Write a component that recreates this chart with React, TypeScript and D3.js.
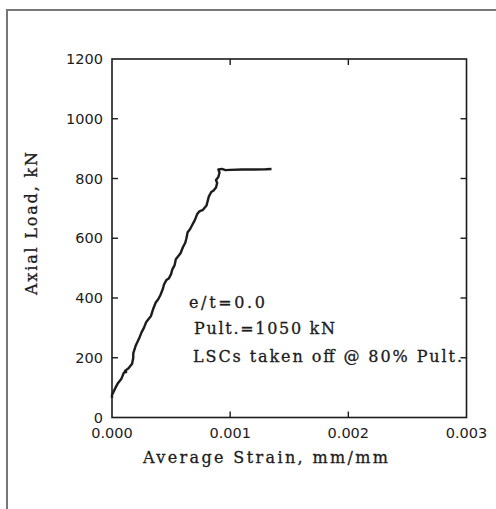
import React from "react";
import * as d3 from "d3";

const strain = [
  0.0, 0.0, 0.00003, 0.00005, 0.00008, 0.0001, 0.00012, 0.00011, 0.00014, 0.00017,
  0.00018, 0.00018, 0.0002, 0.00023, 0.00025, 0.00027, 0.00029, 0.00031, 0.00033, 0.00035,
  0.00037, 0.00039, 0.00041, 0.00043, 0.00044, 0.00046, 0.00048, 0.0005, 0.00051, 0.00053,
  0.00054, 0.00056, 0.00058, 0.0006, 0.00062, 0.00063, 0.00064, 0.00066, 0.00068, 0.0007,
  0.00072, 0.00074, 0.00077, 0.0008, 0.00082, 0.00084, 0.00086, 0.00088, 0.00089, 0.00088,
  0.0009, 0.00091, 0.0009, 0.00093, 0.00096, 0.001, 0.0011, 0.0012, 0.0013, 0.00135,
];
const load = [
  65, 75, 100, 115, 130, 150, 152, 156, 165, 180,
  200, 215, 240, 265, 285, 300, 320, 330, 340, 365,
  385, 395, 410, 430, 445, 460, 465, 480, 495, 510,
  530, 540, 550, 570, 585, 600, 620, 630, 645, 660,
  680, 690, 695, 710, 740, 755, 760, 770, 785, 795,
  805, 820, 830, 832, 828, 829, 830, 830, 831, 832,
];

const xTicks = [0, 0.001, 0.002, 0.003];
const yTicks = [0, 200, 400, 600, 800, 1000, 1200];
const annotations = ["e/t=0.0", "Pult.=1050 kN", "LSCs taken off @ 80% Pult."];
const xTitle = "Average Strain, mm/mm";
const yTitle = "Axial Load, kN";

export default function App() {
  const W = 496, H = 509;
  const left = 112, right = 466.5, top = 59, bottom = 417.5;
  const x = d3.scaleLinear().domain([0, 0.003]).range([left, right]);
  const y = d3.scaleLinear().domain([0, 1200]).range([bottom, top]);
  const pts: [number, number][] = strain.map((s, i) => [s, load[i]]);
  const line = d3.line<[number, number]>().x(d => x(d[0])).y(d => y(d[1]));
  const ink = "#1c1c1c";
  const serif = "'DejaVu Serif', serif";
  const sans = "'DejaVu Sans', sans-serif";
  const annX = [189, 194, 193];
  const annY = [308, 334, 362];
  const annLen = [76, 141, 269];
  return (
    <svg width={W} height={H} style={{ position: "absolute", left: 0, top: 0, background: "#fff" }}>
      <rect x={7} y={10} width={W} height={H} fill="none" stroke="#777" strokeWidth={2} />
      <rect x={left} y={top} width={right - left} height={bottom - top} fill="none" stroke={ink} strokeWidth={1.6} />
      {yTicks.slice(1, -1).map(t => (
        <g key={"yt" + t}>
          <line x1={left} x2={left + 6} y1={y(t)} y2={y(t)} stroke={ink} strokeWidth={1.4} />
          <line x1={right} x2={right - 6} y1={y(t)} y2={y(t)} stroke={ink} strokeWidth={1.4} />
        </g>
      ))}
      {xTicks.slice(1, -1).map(t => (
        <g key={"xt" + t}>
          <line x1={x(t)} x2={x(t)} y1={bottom} y2={bottom - 6} stroke={ink} strokeWidth={1.4} />
          <line x1={x(t)} x2={x(t)} y1={top} y2={top + 6} stroke={ink} strokeWidth={1.4} />
        </g>
      ))}
      {yTicks.map(t => (
        <text key={"yl" + t} x={103} y={y(t)} dy="0.36em" textAnchor="end" fontFamily={sans} fontSize={14.5} fill={ink}>
          {t}
        </text>
      ))}
      {xTicks.map(t => (
        <text key={"xl" + t} x={x(t)} y={438} textAnchor="middle" fontFamily={sans} fontSize={14.5} fill={ink}>
          {d3.format(".3f")(t)}
        </text>
      ))}
      <text x={265.5} y={463} textAnchor="middle" fontFamily={serif} fontSize={16} fill={ink} stroke={ink} strokeWidth={0.3} textLength={245} lengthAdjust="spacing">
        {xTitle}
      </text>
      <text transform="translate(37,223.5) rotate(-90)" textAnchor="middle" fontFamily={serif} fontSize={16} fill={ink} stroke={ink} strokeWidth={0.3} textLength={143} lengthAdjust="spacing">
        {yTitle}
      </text>
      {annotations.map((a, i) => (
        <text key={a} x={annX[i]} y={annY[i]} fontFamily={serif} fontSize={16} fill={ink} stroke={ink} strokeWidth={0.3} textLength={annLen[i]} lengthAdjust="spacing">
          {a}
        </text>
      ))}
      <path d={line(pts) || ""} fill="none" stroke={ink} strokeWidth={2.4} strokeLinejoin="round" />
    </svg>
  );
}
